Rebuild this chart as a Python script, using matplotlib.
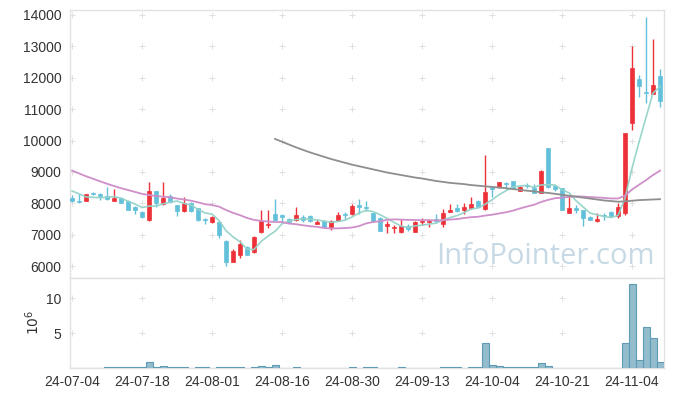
import matplotlib
matplotlib.use("Agg")
import matplotlib.pyplot as plt
from matplotlib.patches import Rectangle

plt.rcParams['font.family'] = ['Liberation Sans', 'DejaVu Sans']

dates = ["24-07-04","24-07-05","24-07-08","24-07-09","24-07-10","24-07-11","24-07-12","24-07-15","24-07-16","24-07-17",
         "24-07-18","24-07-19","24-07-22","24-07-23","24-07-24","24-07-25","24-07-26","24-07-29","24-07-30","24-07-31",
         "24-08-01","24-08-02","24-08-05","24-08-06","24-08-07","24-08-08","24-08-09","24-08-12","24-08-13","24-08-14",
         "24-08-16","24-08-19","24-08-20","24-08-21","24-08-22","24-08-23","24-08-26","24-08-27","24-08-28","24-08-29",
         "24-08-30","24-09-02","24-09-03","24-09-04","24-09-05","24-09-06","24-09-09","24-09-10","24-09-11","24-09-12",
         "24-09-13","24-09-19","24-09-20","24-09-23","24-09-24","24-09-25","24-09-26","24-09-27","24-09-30","24-10-02",
         "24-10-04","24-10-07","24-10-08","24-10-10","24-10-11","24-10-14","24-10-15","24-10-16","24-10-17","24-10-18",
         "24-10-21","24-10-22","24-10-23","24-10-24","24-10-25","24-10-28","24-10-29","24-10-30","24-10-31","24-11-01",
         "24-11-04","24-11-05","24-11-06","24-11-07","24-11-08"]

opens = [8180,8070,8080,8320,8300,8230,8080,8180,8080,7880,
         7720,7480,8380,7970,8230,7930,7750,8000,7840,7500,
         7400,7400,6800,6140,6360,6620,6440,7090,7310,7660,
         7630,7500,7470,7550,7600,7340,7430,7240,7450,7630,
         7650,7940,7870,7690,7530,7290,7200,7090,7270,7090,
         7400,7400,7490,7350,7730,7850,7770,7850,8060,7810,
         8500,8510,8640,8710,8400,8590,8500,8340,9760,8560,
         8490,7700,7860,7790,7570,7420,7620,7730,7600,7700,
         10570,11960,11560,11490,12040]
highs = [8250,8300,8300,8350,8330,8530,8450,8200,8100,7900,
         7740,8680,8400,8680,8300,7950,8200,8050,7860,7520,
         7580,7420,6820,6550,6820,6640,6960,7790,7790,8120,
         7650,7530,7880,7630,7630,7500,7460,7470,7720,7720,
         7990,8130,8060,7700,7550,7420,7320,7490,7330,7420,
         7520,7490,7650,7820,7990,7990,8010,8200,8100,9540,
         8530,8690,8690,8720,8550,8660,8620,9070,9770,8580,
         8500,8240,7950,7800,7590,7700,7680,7750,8000,10230,
         13010,12100,13930,13230,12270]
lows = [8050,8010,8060,8250,8100,8100,8060,8000,7780,7650,
        7540,7450,7880,7950,8000,7600,7720,7730,7450,7330,
        7380,6900,6000,6130,6250,6350,6420,7050,7220,7470,
        7380,7360,7440,7390,7400,7330,7230,7140,7420,7490,
        7630,7660,7750,7400,7120,7060,7050,7050,7130,7070,
        7300,7230,7380,7250,7710,7730,7670,7830,7860,7780,
        8190,8490,8440,8460,8380,8480,8320,8320,8500,8400,
        7780,7690,7700,7280,7460,7410,7480,7580,7540,7640,
        10340,11380,11190,11480,11080]
closes = [8080,8030,8280,8280,8220,8120,8170,8010,7790,7790,
          7560,8400,8010,8160,8040,7740,8020,7750,7470,7470,
          7560,6980,6140,6480,6710,6360,6940,7420,7340,7480,
          7550,7400,7630,7470,7420,7400,7240,7430,7620,7610,
          7910,7880,7840,7420,7130,7320,7230,7260,7190,7400,
          7420,7400,7420,7680,7790,7750,7870,7970,7880,8370,
          8470,8670,8610,8480,8520,8550,8340,9030,8520,8470,
          7790,7850,7780,7540,7480,7510,7590,7600,7870,10230,
          12300,11740,11520,11770,11270]

ma_short = [8390,8300,8200,8190,8178,8186,8214,8160,8062,7976,
            7864,7910,7910,7984,8034,8070,7994,7942,7804,7690,
            7654,7446,7124,6926,6774,6534,6526,6782,6954,7108,
            7346,7438,7480,7506,7494,7464,7432,7392,7422,7460,
            7562,7690,7772,7732,7636,7518,7388,7272,7226,7280,
            7300,7334,7366,7464,7542,7608,7702,7812,7852,7968,
            8112,8272,8400,8520,8550,8566,8500,8584,8592,8582,
            8430,8332,8082,7886,7688,7632,7580,7544,7610,8160,
            9118,9948,10732,11512,11720]
ma_mid = [9040,8950,8860,8780,8700,8620,8550,8480,8420,8360,
          8300,8260,8230,8210,8190,8150,8120,8080,8030,7970,
          7944,7891,7784,7694,7619,7531,7469,7440,7417,7402,
          7401,7351,7332,7298,7267,7250,7211,7195,7202,7209,
          7227,7272,7357,7404,7425,7473,7487,7479,7472,7468,
          7461,7461,7451,7461,7480,7497,7529,7556,7569,7607,
          7635,7674,7713,7766,7835,7897,7952,8041,8107,8161,
          8179,8202,8220,8213,8197,8185,8171,8153,8152,8245,
          8437,8590,8736,8900,9038]
ma_long_start = 29
ma_long = [10050,9960,9870,9780,9700,9620,9550,9480,9410,9350,
           9290,9230,9180,9130,9080,9030,8980,8940,8900,8860,
           8820,8790,8750,8710,8680,8650,8630,8610,8580,8560,
           8540,8520,8500,8480,8450,8430,8400,8380,8350,8330,
           8300,8270,8240,8210,8180,8150,8120,8090,8070,8050,
           8060,8080,8100,8110,8120,8130]
volume = [0.05,0.05,0.05,0.05,0.05,0.15,0.15,0.15,0.15,0.15,
          0.15,0.9,0.15,0.35,0.15,0.15,0.15,0.0,0.15,0.15,
          0.0,0.15,0.15,0.15,0.15,0.0,0.15,0.3,0.12,0.5,
          0.0,0.0,0.15,0.0,0.0,0.0,0.0,0.0,0.0,0.0,
          0.15,0.0,0.15,0.15,0.0,0.0,0.0,0.15,0.0,0.0,
          0.0,0.0,0.0,0.15,0.15,0.15,0.0,0.15,0.15,3.6,
          0.5,0.35,0.15,0.15,0.15,0.15,0.15,0.75,0.35,0.0,
          0.0,0.0,0.0,0.0,0.0,0.0,0.0,0.0,0.0,3.6,
          12.0,1.1,5.9,4.3,0.8]

price_ticks = [6000,7000,8000,9000,10000,11000,12000,13000,14000]
vol_ticks = [5,10]
tick_idx = list(range(0, len(dates), 10))

UP = '#ec3238'
DOWN = '#62c0da'
FRAME = '#e2e2e2'
TXT = '#333333'

W, H = 673, 397
fig = plt.figure(figsize=(W/100, H/100), dpi=100)
ax = fig.add_axes([70/W, 1-278/H, 594/W, 268/H])
axv = fig.add_axes([70/W, 1-368/H, 594/W, 90/H], sharex=ax)

n = len(closes)
xs = list(range(n))
bw = 0.68
for i in xs:
    o, c, h, l = opens[i], closes[i], highs[i], lows[i]
    col = UP if c >= o else DOWN
    ax.vlines(i, l, h, color=col, lw=1.0, zorder=3)
    b0 = min(o, c)
    bh = max(abs(c - o), 35)
    ax.add_patch(Rectangle((i - bw/2, b0), bw, bh, facecolor=col, edgecolor=col, lw=0.5, zorder=4))

ax.plot(xs, ma_short, color='#94d3c9', lw=1.2, zorder=5, alpha=0.95)
ax.plot(xs, ma_mid, color='#cf8fca', lw=1.3, zorder=5)
ax.plot(list(range(ma_long_start, ma_long_start + len(ma_long))), ma_long, color='#8e8e8e', lw=1.3, zorder=5)

ax.set_xlim(-0.3, 84.57)
ax.set_ylim(5618, 14159)
ax.set_yticks(price_ticks)
ax.set_yticklabels([str(v) for v in price_ticks], fontsize=10, color=TXT)
ax.tick_params(axis='y', length=0, pad=6)
ax.tick_params(axis='x', length=0, labelbottom=False)

# grid "+" marks
gx = [i for i in tick_idx for _ in price_ticks]
gy = [v for _ in tick_idx for v in price_ticks]
ax.scatter(gx, gy, marker='+', s=14, color='#e0e0e0', lw=0.7, zorder=1)

ax.text(0.80, 0.08, 'InfoPointer.com', transform=ax.transAxes, ha='center', va='center',
        fontsize=21, color='#c6d9e5', family=['Open Sans', 'DejaVu Sans'], zorder=2)

axv.bar(xs, volume, width=1.0, facecolor='#93bccd', edgecolor='#5e9bb4', lw=0.8, zorder=3)
axv.set_ylim(0, 12.9)
axv.set_yticks(vol_ticks)
axv.set_yticklabels([str(v) for v in vol_ticks], fontsize=10, color=TXT)
axv.tick_params(axis='y', length=0, pad=6)
axv.set_xticks(tick_idx)
axv.set_xticklabels([dates[i] for i in tick_idx], fontsize=10, color=TXT)
axv.tick_params(axis='x', length=0, pad=5)
vgx = [i for i in tick_idx for _ in vol_ticks]
vgy = [v for _ in tick_idx for v in vol_ticks]
axv.scatter(vgx, vgy, marker='+', s=14, color='#e0e0e0', lw=0.7, zorder=1)
fig.text(33/W, 1-322/H, r'$10^6$', rotation=90, ha='center', va='center', fontsize=10, color=TXT)

for a in (ax, axv):
    for s in a.spines.values():
        s.set_color(FRAME)
        s.set_linewidth(1.0)

fig.savefig('out.png', dpi=100)
